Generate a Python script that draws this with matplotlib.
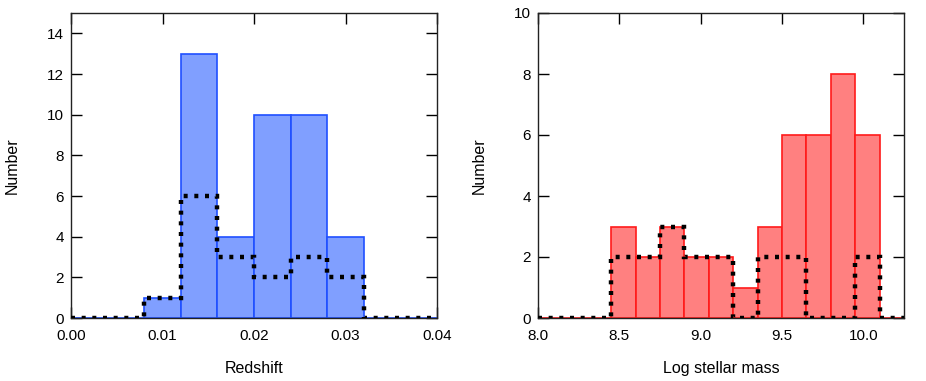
import numpy as np
import matplotlib
matplotlib.use("Agg")
import matplotlib.pyplot as plt
from matplotlib.ticker import FormatStrFormatter

plt.rcParams['font.family'] = ['Liberation Sans', 'DejaVu Sans']

# Left panel: redshift
z_edges = [0.000, 0.004, 0.008, 0.012, 0.016, 0.020, 0.024, 0.028, 0.032, 0.036, 0.040]
z_all = [0, 0, 1, 13, 4, 10, 10, 4, 0, 0]
z_sub = [0, 0, 1, 6, 3, 2, 3, 2, 0, 0]
z_ticks = [0.00, 0.01, 0.02, 0.03, 0.04]
z_yticks = [0, 2, 4, 6, 8, 10, 12, 14]

# Right panel: log stellar mass
m_edges = [8.00, 8.15, 8.30, 8.45, 8.60, 8.75, 8.90, 9.05, 9.20, 9.35, 9.50,
           9.65, 9.80, 9.95, 10.10, 10.25]
m_all = [0, 0, 0, 3, 2, 3, 2, 2, 1, 3, 6, 6, 8, 6, 0]
m_sub = [0, 0, 0, 2, 2, 3, 2, 2, 0, 2, 2, 0, 0, 2, 0]
m_ticks = [8.0, 8.5, 9.0, 9.5, 10.0]
m_yticks = [0, 2, 4, 6, 8, 10]

fig = plt.figure(figsize=(9.26, 3.81), dpi=100)
ax1 = fig.add_axes([71/926, 63/381, 366/926, 305/381])
ax2 = fig.add_axes([538/926, 63/381, 366/926, 305/381])

def panel(ax, edges, allv, subv, fc, ec, xticks, yticks, ylim, xfmt, xlabel):
    edges = np.asarray(edges)
    widths = np.diff(edges)
    ax.bar(edges[:-1], allv, width=widths, align='edge', color=fc,
           edgecolor=ec, linewidth=1.2, zorder=2)
    ax.stairs(subv, edges, baseline=None, color='black', linewidth=3.2,
              linestyle=(0, (0.9, 1.5)), zorder=3)
    ax.set_xlim(edges[0], edges[-1])
    ax.set_ylim(*ylim)
    ax.set_xticks(xticks)
    ax.set_yticks(yticks)
    ax.xaxis.set_major_formatter(FormatStrFormatter(xfmt))
    ax.tick_params(direction='in', top=True, right=True, length=8,
                   width=1, labelsize=11, colors='black')
    ax.tick_params(axis='x', pad=8)
    ax.tick_params(axis='y', pad=5)
    for s in ax.spines.values():
        s.set_linewidth(1.0)
        s.set_color('#222222')
    ax.set_ylabel('Number', fontsize=11.5, labelpad=20)
    ax.set_xlabel(xlabel, fontsize=11.5, labelpad=13)

panel(ax1, z_edges, z_all, z_sub, '#809fff', '#1f4fff', z_ticks, z_yticks,
      (0, 15), '%.2f', 'Redshift')
panel(ax2, m_edges, m_all, m_sub, '#ff8080', '#ff1a1a', m_ticks, m_yticks,
      (0, 10), '%.1f', 'Log stellar mass')

fig.savefig('out.png', dpi=100)
